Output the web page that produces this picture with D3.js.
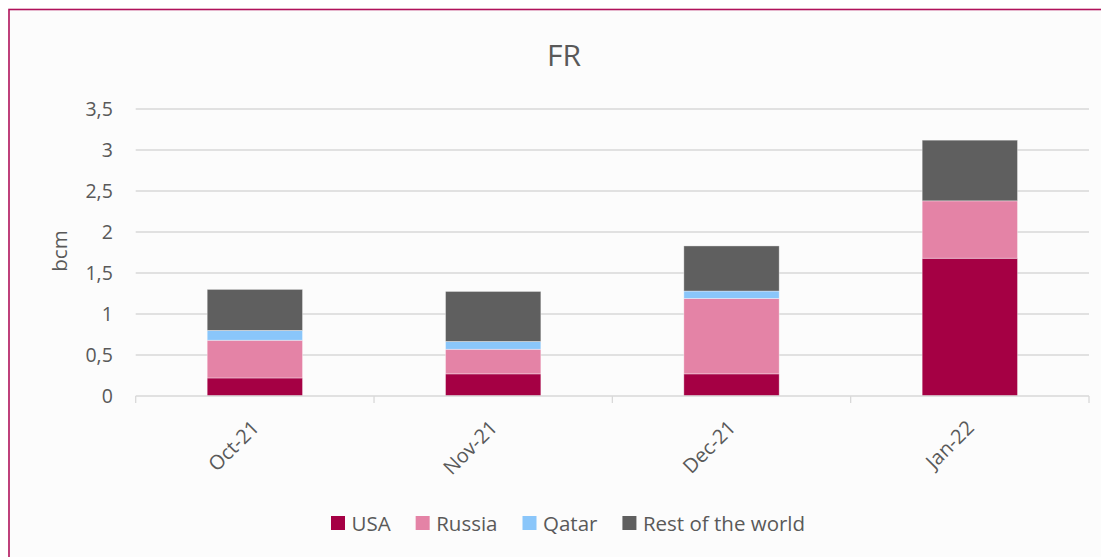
<!DOCTYPE html>
<html>
<head>
<meta charset="utf-8">
<script src="https://cdn.jsdelivr.net/npm/d3@7/dist/d3.min.js"></script>
<style>
  html, body { margin: 0; padding: 0; background: #ffffff; }
  svg { display: block; }
  text { font-family: "Open Sans", "Noto Sans", sans-serif; fill: #595959; }
</style>
</head>
<body>
<svg id="chart" width="1101" height="557"></svg>
<script>
const categories = ["Oct-21", "Nov-21", "Dec-21", "Jan-22"];
const seriesNames = ["USA", "Russia", "Qatar", "Rest of the world"];
const usa    = [0.22, 0.27, 0.27, 1.68];
const russia = [0.46, 0.30, 0.92, 0.70];
const qatar  = [0.12, 0.095, 0.09, 0.0];
const rest   = [0.50, 0.61, 0.55, 0.74];
const yTicks = [0, 0.5, 1, 1.5, 2, 2.5, 3, 3.5];
const colors = ["#A50044", "#E483A6", "#8AC6FA", "#5F5F5F"];

const seriesValues = [usa, russia, qatar, rest];
const rows = categories.map((c, i) => {
  const r = { cat: c };
  seriesNames.forEach((s, j) => r[s] = seriesValues[j][i]);
  return r;
});

const svg = d3.select("#chart");

svg.append("rect").attr("x", 0).attr("y", 0).attr("width", 1101).attr("height", 557).attr("fill", "#ffffff");
svg.append("rect").attr("x", 9).attr("y", 9.5).attr("width", 1130).attr("height", 600)
  .attr("fill", "#fcfcfc").attr("stroke", "#B0125A").attr("stroke-width", 1.6);

const pLeft = 135.7, pRight = 1089, pTop = 109, pBottom = 396;

const x = d3.scaleBand().domain(categories).range([pLeft, pRight]).paddingInner(0.6).paddingOuter(0.3);
const xBand = d3.scaleBand().domain(categories).range([pLeft, pRight]);
const y = d3.scaleLinear().domain([0, 3.5]).range([pBottom, pTop]);

svg.append("g").selectAll("line").data(yTicks.filter(t => t > 0)).join("line")
  .attr("x1", pLeft).attr("x2", pRight)
  .attr("y1", d => y(d)).attr("y2", d => y(d))
  .attr("stroke", "#d9d9d9").attr("stroke-width", 1.3);

svg.append("g").selectAll("text").data(yTicks).join("text")
  .attr("x", 112.8).attr("y", d => y(d)).attr("dy", "0.36em")
  .attr("text-anchor", "end").attr("font-size", 19.5)
  .text(d => String(d).replace(".", ","));

const stacked = d3.stack().keys(seriesNames)(rows);
svg.append("g").selectAll("g").data(stacked).join("g")
  .attr("fill", (d, i) => colors[i])
  .selectAll("rect").data(d => d).join("rect")
  .attr("x", d => x(d.data.cat))
  .attr("width", x.bandwidth())
  .attr("y", d => y(d[1]))
  .attr("height", d => Math.max(0, y(d[0]) - y(d[1])))
  .attr("stroke", "#ffffff").attr("stroke-opacity", 0.45).attr("stroke-width", 0.8);

svg.append("line").attr("x1", pLeft).attr("x2", pRight).attr("y1", pBottom).attr("y2", pBottom)
  .attr("stroke", "#d9d9d9").attr("stroke-width", 1.3);
const boundaries = categories.map(c => xBand(c)).concat([pRight]);
svg.append("g").selectAll("line").data(boundaries).join("line")
  .attr("x1", d => d).attr("x2", d => d).attr("y1", pBottom).attr("y2", pBottom + 7)
  .attr("stroke", "#d9d9d9").attr("stroke-width", 1.3);

svg.append("g").selectAll("text").data(categories).join("text")
  .attr("text-anchor", "end").attr("font-size", 20)
  .attr("transform", d => `translate(${xBand(d) + xBand.bandwidth() / 2 + 0.5},${pBottom + 28}) rotate(-45)`)
  .attr("dy", "0.35em")
  .text(d => d);

svg.append("text").attr("x", 564).attr("y", 66).attr("text-anchor", "middle")
  .attr("font-size", 30).text("FR");

svg.append("text").attr("transform", `translate(66.5,251) rotate(-90)`)
  .attr("text-anchor", "middle").attr("font-size", 20.5).text("bcm");

const legend = svg.append("g");
let lx = 331;
seriesNames.forEach((s, i) => {
  legend.append("rect").attr("x", lx).attr("y", 516).attr("width", 14).attr("height", 14).attr("fill", colors[i]);
  const t = legend.append("text").attr("x", lx + 20.5).attr("y", 530.5).attr("font-size", 20.5).text(s);
  const w = t.node().getComputedTextLength();
  lx = lx + 20.5 + w + 25;
});
</script>
</body>
</html>
